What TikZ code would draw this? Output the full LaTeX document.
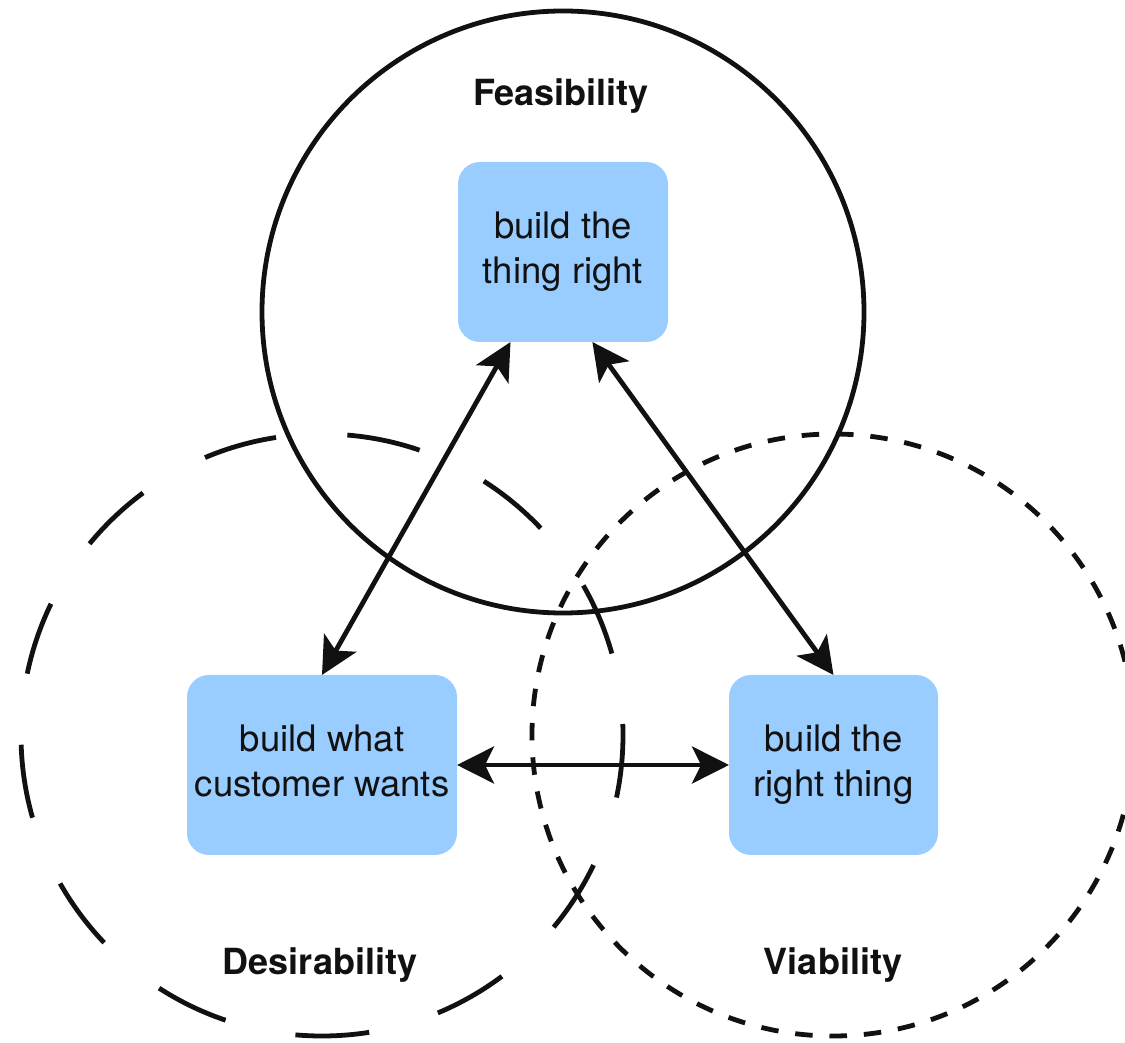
\documentclass[tikz,border=0pt]{standalone}
\usepackage{fontspec}
\setmainfont{TeX Gyre Heros}
\usetikzlibrary{arrows.meta,calc}
\definecolor{boxblue}{HTML}{99CCFF}
\definecolor{ink}{HTML}{111111}
\begin{document}
\begin{tikzpicture}[x=1pt,y=1pt,
  ring/.style={line width=4.8pt, draw=ink},
  box/.style={fill=boxblue, rounded corners=22pt, minimum width=#1, minimum height=180pt,
    inner sep=0pt, outer sep=0pt, align=center, text=ink, font=\fontsize{36.5}{45}\selectfont},
  lbl/.style={font=\fontsize{36}{43}\selectfont\bfseries, anchor=base, text=ink},
  tipstyle/.tip={Stealth[length=37pt,width=37pt,inset=9pt]},
  link/.style={line width=4.8pt, draw=ink, tipstyle-tipstyle}]
\useasboundingbox (0,0) rectangle (1125,1042);
\clip (0,0) rectangle (1125,1042);
% circles
\coordinate (cF) at (563,730);
\coordinate (cD) at (322,307);
\coordinate (cV) at (833,307);
\draw[ring] (cF) circle[radius=301pt];
\draw[ring, dash pattern=on 74pt off 71.5pt, dash phase=11pt]
  ($(cD)+(301,0)$) arc[start angle=0, end angle=-360, radius=301pt];
\draw[ring, dash pattern=on 17.5pt off 16.885pt, dash phase=22.5pt]
  ($(cV)+(301,0)$) arc[start angle=0, end angle=-360, radius=301pt];
% boxes
\node[box=210pt] (t) at (563,790) {build the\\thing right};
\node[box=270pt] (d) at (322,277) {build what\\customer wants\vphantom{g}};
\node[box=209pt] (v) at (833.5,277) {build the\\right thing};
% labels
\node[lbl] (lf) at (561,936) {Feasibility};
\node[lbl] (ld) at (320,67) {Desirability};
\node[lbl] (lv) at (833,67) {Viability};
% connectors
\draw[link] ($(t.south west)!0.25!(t.south east)$) -- (d.north);
\draw[link] ($(t.south west)!0.64!(t.south east)$) -- (v.north);
\draw[link] (d.east) -- (v.west);
\end{tikzpicture}
\end{document}
